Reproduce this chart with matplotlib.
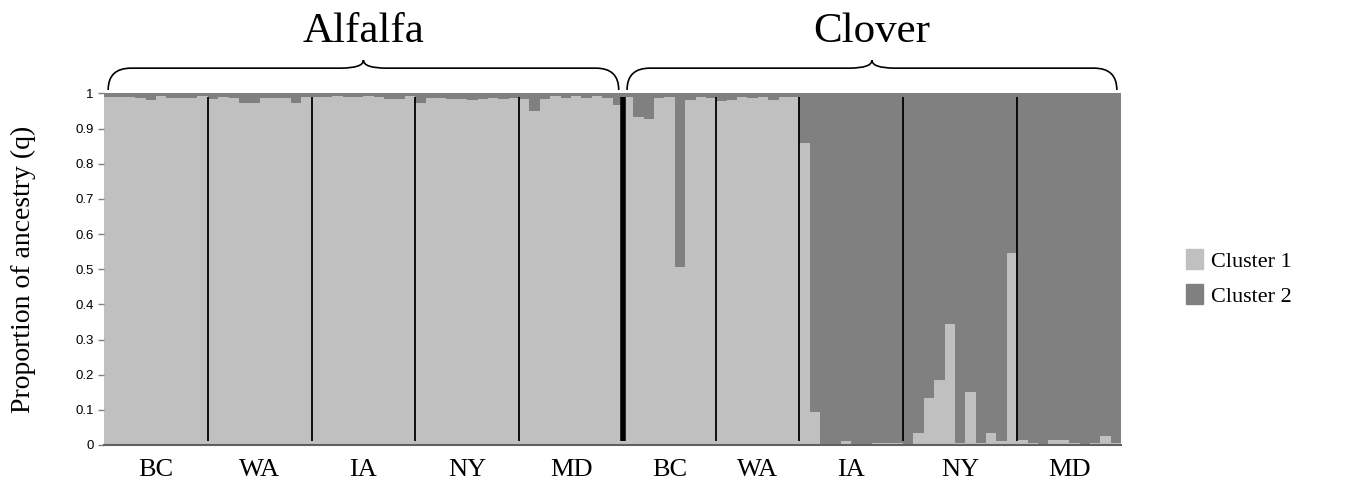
import matplotlib.pyplot as plt
import matplotlib.patches as mpatches
from matplotlib.path import Path
import matplotlib.transforms as mtransforms
import numpy as np

plt.rcParams['font.family'] = ['Liberation Serif', 'DejaVu Serif']

hosts = ['Alfalfa', 'Clover']
pops = ['BC', 'WA', 'IA', 'NY', 'MD']

# proportion assigned to cluster 1 for each individual, by host and population
alfalfa_bc = [0.99, 0.99, 0.99, 0.987, 0.98, 0.992, 0.987, 0.987, 0.987, 0.992]
alfalfa_wa = [0.985, 0.99, 0.987, 0.972, 0.972, 0.987, 0.987, 0.987, 0.972, 0.99]
alfalfa_ia = [0.99, 0.99, 0.993, 0.99, 0.99, 0.993, 0.99, 0.985, 0.985, 0.993]
alfalfa_ny = [0.972, 0.987, 0.987, 0.985, 0.985, 0.98, 0.985, 0.987, 0.985, 0.988]
alfalfa_md = [0.985, 0.95, 0.985, 0.992, 0.988, 0.992, 0.988, 0.992, 0.987, 0.968]
clover_bc = [0.99, 0.934, 0.926, 0.986, 0.99, 0.505, 0.98, 0.99, 0.986]
clover_wa = [0.978, 0.98, 0.989, 0.986, 0.989, 0.98, 0.99, 0.99]
clover_ia = [0.86, 0.095, 0.003, 0.003, 0.01, 0.002, 0.002, 0.005, 0.005, 0.005]
clover_ny = [0.003, 0.035, 0.135, 0.185, 0.345, 0.005, 0.15, 0.005, 0.035, 0.01, 0.545]
clover_md = [0.013, 0.005, 0.003, 0.013, 0.013, 0.005, 0.003, 0.005, 0.025, 0.005]

groups = [alfalfa_bc, alfalfa_wa, alfalfa_ia, alfalfa_ny, alfalfa_md,
          clover_bc, clover_wa, clover_ia, clover_ny, clover_md]
group_labels = pops + pops

q1 = np.concatenate(groups)
q2 = 1 - q1
x = np.arange(len(q1))
sizes = [len(g) for g in groups]
bounds = np.concatenate([[0], np.cumsum(sizes)]) - 0.5

c1 = '#c0c0c0'
c2 = '#808080'

fig = plt.figure(figsize=(13.49, 4.86), dpi=100)
ax = fig.add_axes([0.0771, 0.0844, 0.7539, 0.7233])

ax.bar(x, q1, width=1.0, color=c1, linewidth=0)
ax.bar(x, q2, width=1.0, bottom=q1, color=c2, linewidth=0)

# population separators
for i, b in enumerate(bounds[1:-1], start=1):
    lw = 4 if i == 5 else 1.3
    ax.plot([b, b], [0.01, 0.99], color='black', lw=lw, solid_capstyle='butt')

ax.set_xlim(bounds[0], bounds[-1])
ax.set_ylim(0, 1)
ax.set_yticks(np.arange(0, 1.01, 0.1))
ax.set_yticklabels(['0'] + ['%.1f' % v for v in np.arange(0.1, 0.95, 0.1)] + ['1'],
                   family=['Liberation Sans', 'DejaVu Sans'], fontsize=9.5)
ax.tick_params(axis='y', length=4, color='#808080', width=1)
ax.set_xticks((bounds[:-1] + bounds[1:]) / 2)
ax.set_xticklabels(group_labels, fontsize=19)
ax.tick_params(axis='x', length=0, pad=10)
for s in ['top', 'right', 'left']:
    ax.spines[s].set_visible(False)
ax.spines['bottom'].set_color('#606060')
ax.spines['bottom'].set_linewidth(1.5)

ax.set_ylabel('Proportion of ancestry (q)', fontsize=20, labelpad=28)

# curly braces over each host
trans = mtransforms.blended_transform_factory(ax.transData, ax.transAxes)


def brace(x0, x1, yb=1.01, ym=1.072, yt=1.095, dx=2.2):
    xm = (x0 + x1) / 2
    verts = [(x0, yb), (x0, ym), (x0 + dx, ym),
             (xm - dx, ym),
             (xm, ym), (xm, yt),
             (xm, ym), (xm + dx, ym),
             (x1 - dx, ym),
             (x1, ym), (x1, yb)]
    codes = [Path.MOVETO, Path.CURVE3, Path.CURVE3,
             Path.LINETO,
             Path.CURVE3, Path.CURVE3,
             Path.CURVE3, Path.CURVE3,
             Path.LINETO,
             Path.CURVE3, Path.CURVE3]
    p = mpatches.PathPatch(Path(verts, codes), fill=False, lw=1.2,
                           edgecolor='black', transform=trans, clip_on=False)
    ax.add_patch(p)
    return xm


for h, (g0, g1) in enumerate([(0, 5), (5, 10)]):
    x0 = bounds[g0] + 0.4
    x1 = bounds[g1] - 0.4
    xm = brace(x0, x1)
    ax.text(xm, 1.147, hosts[h], transform=trans, ha='center', va='baseline',
            fontsize=31)

handles = [mpatches.Patch(color=c1, label='Cluster 1'),
           mpatches.Patch(color=c2, label='Cluster 2')]
fig.legend(handles=handles, loc='center left', bbox_to_anchor=(0.864, 0.428),
           frameon=False, fontsize=16, handlelength=0.8, handleheight=1.0,
           handletextpad=0.35, labelspacing=0.55)

plt.savefig('out.png', dpi=100)
plt.close()
